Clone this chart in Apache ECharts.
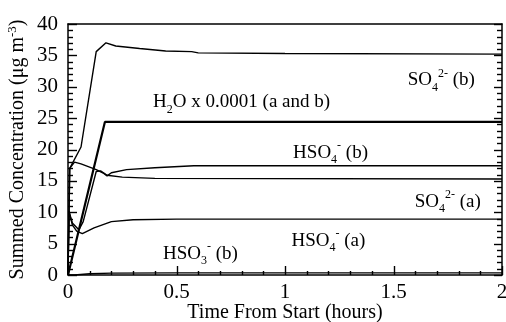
<!DOCTYPE html>
<html><head><meta charset="utf-8">
<script src="https://cdn.jsdelivr.net/npm/echarts@6/dist/echarts.min.js"></script>
<style>html,body{margin:0;padding:0;background:#fff}#c{width:506px;height:322px}</style>
</head><body><div id="c"></div>
<script>
// ---- data (time in hours, concentration in ug/m3) ----
const so4b  = [[0,0],[0.008,17.0],[0.06,20.4],[0.13,35.6],[0.175,37.0],[0.22,36.5],[0.33,36.1],[0.45,35.7],[0.57,35.6],[0.6,35.4],[1.0,35.3],[2.0,35.2]];
const h2o   = [[0,0],[0.17,24.4],[2.0,24.4]];
const hso4b = [[0,0],[0.008,17.0],[0.03,18.0],[0.06,17.7],[0.13,16.8],[0.165,16.2],[0.18,15.8],[0.2,16.3],[0.27,16.8],[0.4,17.1],[0.58,17.4],[1.0,17.4],[2.0,17.4]];
const so4a  = [[0,0],[0.004,10.2],[0.02,8.3],[0.05,7.2],[0.07,8.5],[0.1,12.5],[0.13,16.5],[0.15,16.6],[0.18,15.9],[0.25,15.6],[0.4,15.4],[2.0,15.3]];
const hso4a = [[0,0],[0.004,10.2],[0.02,8.0],[0.04,7.0],[0.066,6.6],[0.12,7.5],[0.2,8.5],[0.3,8.8],[0.5,8.9],[2.0,8.9]];
const hso3b = [[0,0],[0.03,0.0],[0.1,0.2],[0.2,0.3],[0.5,0.35],[2.0,0.35]];
const xTicks = [0,0.5,1,1.5,2];
const yTicks = [0,5,10,15,20,25,30,35,40];
const xMinorStep = 0.1, yMinorStep = 1;
// label anchors [x, y] in data units and rich text
const labels = [
  {at:[1.72,31.0], text:'{n|SO}{sub|4}{sup|2-}{n| (b)}'},
  {at:[0.80,27.5], text:'{n|H}{sub|2}{n|O x 0.0001 (a and b)}'},
  {at:[1.21,19.4], text:'{n|HSO}{sub|4}{sup|-}{n| (b)}'},
  {at:[1.75,11.7], text:'{n|SO}{sub|4}{sup|2-}{n| (a)}'},
  {at:[1.20,5.4],  text:'{n|HSO}{sub|4}{sup|-}{n| (a)}'},
  {at:[0.61,3.3],  text:'{n|HSO}{sub|3}{sup|-}{n| (b)}'}
];

const FONT = '"Liberation Serif","Times New Roman",serif';
const rich = {
  n:{fontFamily:FONT,fontSize:19,color:'#000',lineHeight:26,verticalAlign:'middle'},
  sub:{fontFamily:FONT,fontSize:12,color:'#000',lineHeight:26,verticalAlign:'bottom'},
  sup:{fontFamily:FONT,fontSize:12,color:'#000',lineHeight:26,verticalAlign:'top'}
};
const chart = echarts.init(document.getElementById('c'), null, {renderer:'canvas'});
const mkLine = () => ({show:true, onZero:false, lineStyle:{color:'#000', width:1.5}});
function ser(d, w){ return {type:'line', data:d, showSymbol:false, symbol:'none', lineStyle:{color:'#000', width:w}, animation:false, z:3}; }
chart.setOption({
  backgroundColor:'#fff',
  animation:false,
  grid:{left:68, right:4, top:24, bottom:47, containLabel:false, outerBoundsMode:'none'},
  xAxis:[{
    type:'value', min:0, max:2, interval:0.5,
    axisLine:mkLine(), axisTick:{show:false}, splitLine:{show:false},
    axisLabel:{color:'#000', fontFamily:FONT, fontSize:21, margin:7,
      formatter:v => xTicks.includes(v) ? String(v) : ''},
    name:'Time From Start (hours)', nameLocation:'middle', nameGap:28, nameMoveOverlap:false,
    nameTextStyle:{color:'#000', fontFamily:FONT, fontSize:20}
  },{
    type:'value', min:0, max:2, interval:0.5, position:'top',
    axisLine:mkLine(), axisTick:{show:false}, axisLabel:{show:false}, splitLine:{show:false}
  }],
  yAxis:[{
    type:'value', min:0, max:40, interval:5,
    axisLine:mkLine(), axisTick:{show:false}, splitLine:{show:false},
    axisLabel:{color:'#000', fontFamily:FONT, fontSize:21, margin:10,
      formatter:v => yTicks.includes(v) ? String(v) : ''},
    name:'{n|Summed Concentration (μg m}{sup|-3}{n|)}', nameLocation:'middle', nameGap:38, nameMoveOverlap:false,
    nameTextStyle:{color:'#000', fontFamily:FONT, fontSize:20,
      rich:{n:{fontFamily:FONT,fontSize:20,color:'#000',lineHeight:24,verticalAlign:'middle'},
            sup:{fontFamily:FONT,fontSize:13,color:'#000',lineHeight:24,verticalAlign:'top'}}}
  },{
    type:'value', min:0, max:40, interval:5, position:'right',
    axisLine:mkLine(), axisTick:{show:false}, axisLabel:{show:false}, splitLine:{show:false}
  }],
  series:[ser(so4b,1.4), ser(h2o,2.2), ser(hso4b,1.4), ser(so4a,1.4), ser(hso4a,1.4), ser(hso3b,1.3)]
});
const px = v => chart.convertToPixel({xAxisIndex:0, yAxisIndex:0}, v);
const g = labels.map(l => {
  const p = px(l.at);
  return {type:'text', x:p[0], y:p[1], z:10,
    style:{text:l.text, rich:rich, align:'center', verticalAlign:'middle', fill:'#000', font:'19px '+FONT}};
});
// axis ticks placed through the axis scales
const tickStyle = {stroke:'#000', lineWidth:1.4};
const x0 = px([0,0])[0], x2 = px([2,0])[0], yb = px([0,0])[1];
for (let i = 0; i <= 40; i++) {
  const v = i * yMinorStep, y = Math.round(px([0, v])[1]) + 0.5;
  const major = yTicks.includes(v);
  g.push({type:'line', z:5, shape:{x1:x0, y1:y, x2:x0 + (major ? 9 : 5), y2:y}, style:tickStyle});
  g.push({type:'line', z:5, shape:{x1:x2, y1:y, x2:x2 - (major ? 8 : 5), y2:y}, style:tickStyle});
}
for (let i = 0; i <= 20; i++) {
  const v = +(i * xMinorStep).toFixed(2), x = Math.round(px([v, 0])[0]) + 0.5;
  const major = xTicks.includes(v);
  g.push({type:'line', z:5, shape:{x1:x, y1:yb, x2:x, y2:yb - (major ? 9 : 4)}, style:tickStyle});
}
chart.setOption({graphic:g});
</script></body></html>
